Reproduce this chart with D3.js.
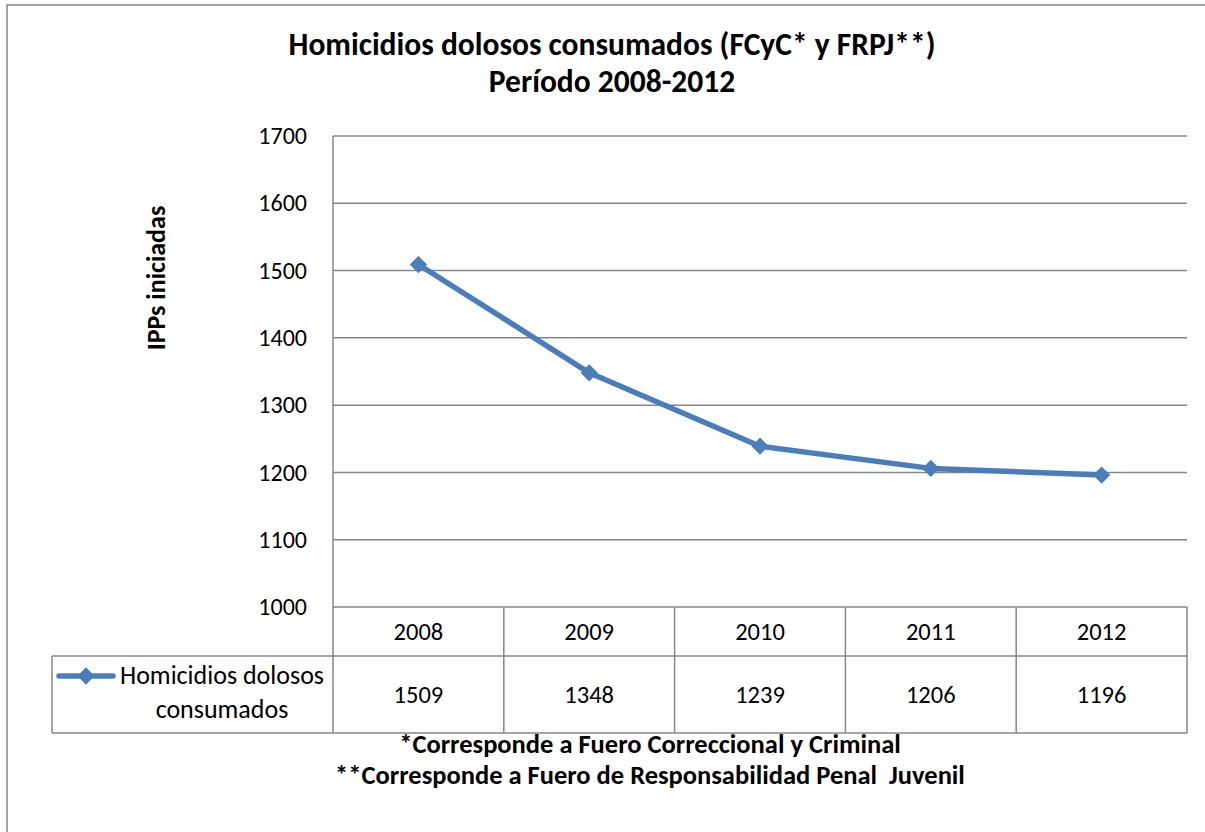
<!DOCTYPE html>
<html>
<head>
<meta charset="utf-8">
<script src="https://cdn.jsdelivr.net/npm/d3@7"></script>
<style>
  html, body { margin: 0; padding: 0; background: #fff; }
  svg { display: block; }
  text { font-family: Calibri, Carlito, Lato, "Open Sans", sans-serif; fill: #000; white-space: pre; }
</style>
</head>
<body>
<svg id="chart" width="1205" height="832"></svg>
<script>
const years = ["2008", "2009", "2010", "2011", "2012"];
const values = [1509, 1348, 1239, 1206, 1196];
const yTicks = [1000, 1100, 1200, 1300, 1400, 1500, 1600, 1700];
const seriesName = ["Homicidios dolosos", "consumados"];
const titleLines = ["Homicidios dolosos consumados (FCyC* y FRPJ**)", "Período 2008-2012"];
const yLabel = "IPPs iniciadas";
const footnotes = ["*Corresponde a Fuero Correccional y Criminal", "**Corresponde a Fuero de Responsabilidad Penal  Juvenil"];

const svg = d3.select("#chart");
const gray = "#878787";
const blue = "#4A7EBB";

const plot = { left: 333, right: 1187, top: 136, bottom: 607 };
const tableTop = 607, headerBottom = 656, tableBottom = 733, legendLeft = 52;

// outer chart border
svg.append("rect").attr("x", 7).attr("y", 5).attr("width", 1220).attr("height", 850)
  .attr("fill", "none").attr("stroke", gray).attr("stroke-width", 1.5);

const x = d3.scaleBand().domain(years).range([plot.left, plot.right]).padding(0);
const y = d3.scaleLinear().domain([1000, 1700]).range([plot.bottom, plot.top]);

// gridlines
svg.append("g").selectAll("line").data(yTicks).join("line")
  .attr("x1", plot.left).attr("x2", plot.right)
  .attr("y1", d => y(d)).attr("y2", d => y(d))
  .attr("stroke", gray).attr("stroke-width", 1.5);

// y axis
const yAxis = svg.append("g").attr("transform", `translate(${plot.left},0)`)
  .call(d3.axisLeft(y).tickValues(yTicks).tickSize(0).tickPadding(26).tickFormat(d3.format("d")));
yAxis.select(".domain").remove();
yAxis.selectAll("text").attr("font-size", 24).style("font-family", "Calibri, Carlito, Lato, sans-serif").attr("fill", "#000");

// left axis line extended through table
svg.append("line").attr("x1", plot.left).attr("x2", plot.left)
  .attr("y1", plot.top).attr("y2", tableBottom).attr("stroke", gray).attr("stroke-width", 1.5);

// table lines
const colEdges = years.map(d => x(d)).concat([plot.right]);
svg.append("g").selectAll("line").data(colEdges.slice(1)).join("line")
  .attr("x1", d => d).attr("x2", d => d).attr("y1", tableTop).attr("y2", tableBottom)
  .attr("stroke", gray).attr("stroke-width", 1.5);
svg.append("line").attr("x1", legendLeft).attr("x2", plot.right).attr("y1", headerBottom).attr("y2", headerBottom)
  .attr("stroke", gray).attr("stroke-width", 1.5);
svg.append("line").attr("x1", legendLeft).attr("x2", plot.right).attr("y1", tableBottom).attr("y2", tableBottom)
  .attr("stroke", gray).attr("stroke-width", 1.5);
svg.append("line").attr("x1", legendLeft).attr("x2", legendLeft).attr("y1", headerBottom).attr("y2", tableBottom)
  .attr("stroke", gray).attr("stroke-width", 1.5);

// header row labels
svg.append("g").selectAll("text").data(years).join("text")
  .attr("x", d => x(d) + x.bandwidth() / 2).attr("y", (tableTop + headerBottom) / 2 + 8.5)
  .attr("text-anchor", "middle").attr("font-size", 24.5).text(d => d);

// value row labels
svg.append("g").selectAll("text").data(values).join("text")
  .attr("x", (d, i) => x(years[i]) + x.bandwidth() / 2).attr("y", (headerBottom + tableBottom) / 2 + 8.5)
  .attr("text-anchor", "middle").attr("font-size", 24.5).text(d => d);

// legend key in table
const diamond = d3.symbol().type(d3.symbolDiamond2).size(190);
svg.append("line").attr("x1", 59).attr("x2", 113).attr("y1", 676).attr("y2", 676)
  .attr("stroke", blue).attr("stroke-width", 5.5).attr("stroke-linecap", "round");
svg.append("path").attr("d", diamond).attr("transform", "translate(86,676)").attr("fill", blue);
svg.append("g").selectAll("text").data(seriesName).join("text")
  .attr("x", 222).attr("y", (d, i) => 684 + i * 34)
  .attr("text-anchor", "middle").attr("font-size", 26).text(d => d);

// series line
const line = d3.line().x((d, i) => x(years[i]) + x.bandwidth() / 2).y(d => y(d));
svg.append("path").datum(values).attr("d", line)
  .attr("fill", "none").attr("stroke", blue).attr("stroke-width", 5.5).attr("stroke-linejoin", "round");
svg.append("g").selectAll("path").data(values).join("path")
  .attr("d", diamond)
  .attr("transform", (d, i) => `translate(${x(years[i]) + x.bandwidth() / 2},${y(d)})`)
  .attr("fill", blue);

// title
svg.append("g").selectAll("text").data(titleLines).join("text")
  .attr("x", 612).attr("y", (d, i) => 55 + i * 37)
  .attr("text-anchor", "middle").attr("font-size", 31.5).attr("font-weight", "bold").text(d => d);

// y axis label
svg.append("text").attr("transform", "translate(165,278) rotate(-90)")
  .attr("text-anchor", "middle").attr("font-size", 26).attr("font-weight", "bold").text(yLabel);

// footnotes
svg.append("g").selectAll("text").data(footnotes).join("text")
  .attr("x", 650).attr("y", (d, i) => 753 + i * 31)
  .attr("text-anchor", "middle").attr("font-size", 26.5).attr("font-weight", "bold").text(d => d);
</script>
</body>
</html>
